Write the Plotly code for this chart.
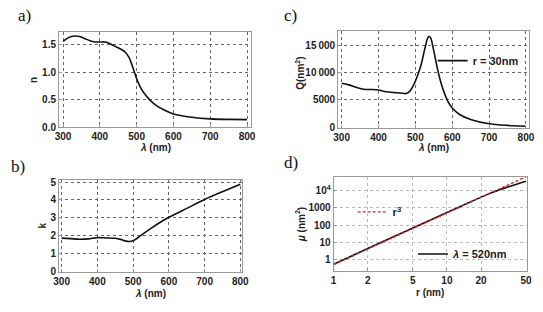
import plotly.graph_objects as go

# ---------------- data ----------------
wl_n = [300, 315, 330, 345, 360, 375, 390, 400, 415, 430, 445, 460, 470, 480,
        490, 500, 510, 520, 535, 550, 575, 600, 650, 700, 750, 800]
n_vals = [1.56, 1.63, 1.66, 1.65, 1.61, 1.57, 1.55, 1.55, 1.55, 1.51, 1.46, 1.41,
          1.36, 1.26, 1.08, 0.88, 0.73, 0.62, 0.50, 0.41, 0.31, 0.24, 0.18, 0.15,
          0.14, 0.135]

wl_k = [300, 325, 350, 375, 400, 425, 450, 465, 480, 490, 500, 510, 525, 550,
        575, 600, 650, 700, 750, 800]
k_vals = [1.85, 1.82, 1.79, 1.81, 1.88, 1.86, 1.84, 1.78, 1.68, 1.66, 1.70, 1.82,
          2.05, 2.40, 2.73, 3.02, 3.52, 4.02, 4.46, 4.88]

wl_q = [300, 320, 340, 360, 380, 400, 420, 440, 460, 475, 485, 495, 505, 515,
        525, 532, 537, 542, 550, 560, 570, 580, 590, 600, 620, 650, 700, 750, 800]
q_vals = [8050, 7750, 7300, 6950, 6900, 6800, 6500, 6350, 6250, 6150, 6600, 7700,
          9300, 11300, 14200, 16100, 16700, 16300, 14000, 10700, 8000, 6000, 4500,
          3500, 2300, 1400, 600, 300, 150]

r_mu = [1, 2, 5, 10, 15, 20, 25, 30, 35, 40, 45, 50]
mu_vals = [0.55, 4.4, 68, 540, 1820, 4250, 7800, 12300, 17000, 22500, 29000, 36000]

r_cube = [1, 2, 5, 10, 20, 50]
cube_vals = [0.52, 4.16, 65, 520, 4160, 65000]

x_ticks_wl = [300, 400, 500, 600, 700, 800]
n_ticks = [0.0, 0.5, 1.0, 1.5]
n_ticktext = ["0.0", "0.5", "1.0", "1.5"]
k_ticks = [0, 1, 2, 3, 4, 5]
q_ticks = [0, 5000, 10000, 15000]
q_ticktext = ["0", "5000", "10\u2009000", "15\u2009000"]
r_ticks = [1, 2, 5, 10, 20, 50]
mu_ticks = [1, 10, 100, 1000, 10000]
mu_ticktext = ["1", "10", "100", "1000", "10<sup>4</sup>"]

# ---------------- figure ----------------
FONT = "Liberation Sans"
tickfont = dict(family=FONT, size=10, color="#222", weight="bold")
fig = go.Figure()

line_black = dict(color="#111", width=1.6, shape="spline", smoothing=0.8)

fig.add_trace(go.Scatter(x=wl_n, y=n_vals, mode="lines", line=line_black,
                         showlegend=False, xaxis="x", yaxis="y"))
fig.add_trace(go.Scatter(x=wl_k, y=k_vals, mode="lines", line=line_black,
                         showlegend=False, xaxis="x2", yaxis="y2"))
fig.add_trace(go.Scatter(x=wl_q, y=q_vals, mode="lines", line=line_black,
                         name="r = 30nm", showlegend=True, legend="legend",
                         xaxis="x3", yaxis="y3"))
fig.add_trace(go.Scatter(x=r_mu, y=mu_vals, mode="lines",
                         line=dict(color="#111", width=1.6, shape="spline", smoothing=0.6),
                         name="<i>\u03bb</i> = 520nm", showlegend=True, legend="legend3",
                         xaxis="x4", yaxis="y4"))
fig.add_trace(go.Scatter(x=r_cube, y=cube_vals, mode="lines",
                         line=dict(color="#d62728", width=1.4, dash="3px,2px"),
                         name="r<sup>3</sup>", showlegend=True, legend="legend2",
                         xaxis="x4", yaxis="y4"))

def ax(domain, anchor, rng, tickvals, ticktext=None, grid="#666", typ="linear"):
    d = dict(domain=domain, anchor=anchor, range=rng, type=typ,
             tickvals=tickvals, showgrid=True, gridcolor=grid, griddash="3px,3px",
             gridwidth=0.8, zeroline=False, showline=True, linecolor="#999",
             linewidth=1, mirror=True, ticks="inside", ticklen=3, tickcolor="#999",
             tickfont=tickfont)
    if ticktext is not None:
        d["ticktext"] = ticktext
    return d

legfont = dict(family=FONT, size=11, color="#222", weight="bold")
fig.update_layout(
    width=543, height=312, margin=dict(l=0, r=0, t=0, b=0),
    paper_bgcolor="white", plot_bgcolor="white",
    xaxis=ax([0.100, 0.4617], "y", [289, 810], x_ticks_wl),
    yaxis=ax([0.5929, 0.9071], "x", [-0.005, 1.73], n_ticks, n_ticktext),
    xaxis2=ax([0.100, 0.4462], "y2", [292.6, 806], x_ticks_wl),
    yaxis2=ax([0.1163, 0.4176], "x2", [-0.04, 5.09], k_ticks),
    xaxis3=ax([0.6267, 0.9866], "y3", [290.5, 808], x_ticks_wl),
    yaxis3=ax([0.5907, 0.9093], "x3", [-180, 17570], q_ticks, q_ticktext),
    xaxis4=ax([0.6182, 0.9822], "y4", [0, 1.703], r_ticks, grid="#bbb", typ="log"),
    yaxis4=ax([0.1186, 0.4304], "x4", [-0.66, 4.82], mu_ticks, mu_ticktext,
              grid="#bbb", typ="log"),
    legend=dict(x=0.805, y=0.813, xanchor="left", yanchor="middle",
                bgcolor="rgba(0,0,0,0)", font=legfont, itemwidth=30),
    legend2=dict(x=0.654, y=0.314, xanchor="left", yanchor="middle",
                 bgcolor="rgba(0,0,0,0)", font=legfont, itemwidth=30),
    legend3=dict(x=0.768, y=0.175, xanchor="left", yanchor="middle",
                 bgcolor="rgba(0,0,0,0)", font=legfont, itemwidth=30),
)

ann_font = dict(family=FONT, size=10, color="#222", weight="bold")
serif = dict(family="Liberation Serif", size=17, color="#111")
annotations = [
    # panel labels
    dict(text="a)", x=10 / 543, y=1 - 12 / 312, font=serif),
    dict(text="b)", x=3 / 543, y=1 - 167 / 312, font=serif),
    dict(text="c)", x=283 / 543, y=1 - 12 / 312, font=serif),
    dict(text="d)", x=283 / 543, y=1 - 163 / 312, font=serif),
    # axis titles
    dict(text="<i>\u03bb</i> (nm)", x=153 / 543, y=1 - 148 / 312, xanchor="center", font=ann_font),
    dict(text="<i>\u03bb</i> (nm)", x=148 / 543, y=1 - 298 / 312, xanchor="center", font=ann_font),
    dict(text="<i>\u03bb</i> (nm)", x=438 / 543, y=1 - 148 / 312, xanchor="center", font=ann_font),
    dict(text="r (nm)", x=434 / 543, y=1 - 297 / 312, xanchor="center", font=ann_font),
    dict(text="n", x=28 / 543, y=1 - 78 / 312, xanchor="center", textangle=-90, font=ann_font),
    dict(text="k", x=37 / 543, y=1 - 228 / 312, xanchor="center", textangle=-90, font=ann_font),
    dict(text="Q(nm<sup>2</sup>)", x=301 / 543, y=1 - 71 / 312, xanchor="center", textangle=-90, font=ann_font),
    dict(text="<i>\u03bc</i> (nm<sup>2</sup>)", x=302 / 543, y=1 - 227 / 312, xanchor="center", textangle=-90, font=ann_font),
]
for a in annotations:
    a.update(xref="paper", yref="paper", showarrow=False)
    a.setdefault("xanchor", "left")
    a.setdefault("yanchor", "middle")
fig.update_layout(annotations=annotations)

fig.write_html("out.html")
